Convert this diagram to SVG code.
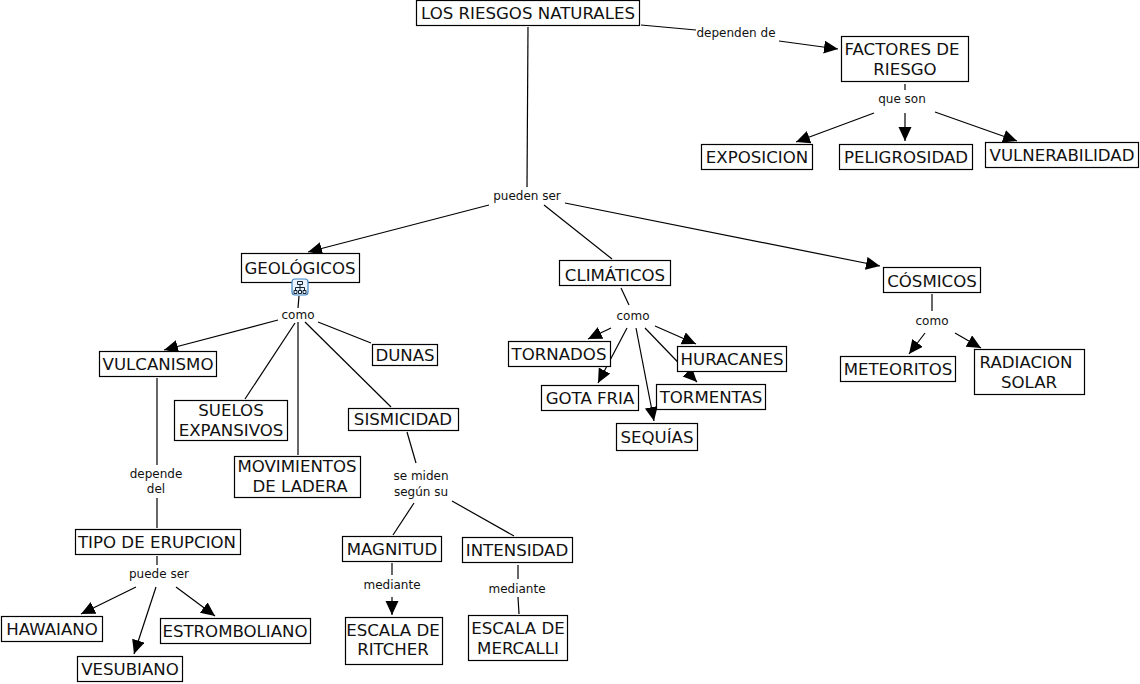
<svg xmlns="http://www.w3.org/2000/svg" width="1140" height="684" viewBox="0 0 1140 684">
<style>
text{font-family:"DejaVu Sans",Verdana,sans-serif;fill:#111;text-anchor:middle}
.n rect{fill:#fff;stroke:#000;stroke-width:1.2}
.n text{font-size:16.6px}
.l text{font-size:12px}
#c line{stroke:#000;stroke-width:1.2}
</style>
<defs><marker id="a" markerWidth="16" markerHeight="14" refX="14" refY="6.500" orient="auto" markerUnits="userSpaceOnUse"><path d="M0 0L14 6.500L0 13Z" fill="#000"/></marker></defs>
<rect width="1140" height="684" fill="#fff"/>
<g id="c">
<line x1="528" y1="27" x2="527" y2="187"/>
<line x1="641" y1="25" x2="696" y2="30"/>
<line x1="779" y1="41" x2="838" y2="49" marker-end="url(#a)"/>
<line x1="905" y1="84" x2="905" y2="90"/>
<line x1="874" y1="113" x2="796" y2="142" marker-end="url(#a)"/>
<line x1="905" y1="113" x2="905" y2="141" marker-end="url(#a)"/>
<line x1="935" y1="112" x2="1017" y2="141" marker-end="url(#a)"/>
<line x1="489" y1="205" x2="308" y2="252" marker-end="url(#a)"/>
<line x1="544" y1="205" x2="612" y2="259"/>
<line x1="565" y1="203" x2="880" y2="266" marker-end="url(#a)"/>
<line x1="299" y1="296" x2="298" y2="308"/>
<line x1="278" y1="320" x2="164" y2="350" marker-end="url(#a)"/>
<line x1="295" y1="323" x2="245" y2="399"/>
<line x1="298" y1="322" x2="298" y2="455"/>
<line x1="305" y1="322" x2="391" y2="407"/>
<line x1="318" y1="322" x2="371" y2="343"/>
<line x1="157" y1="378" x2="157" y2="465"/>
<line x1="157" y1="498" x2="157" y2="528"/>
<line x1="157" y1="556" x2="157" y2="565"/>
<line x1="136" y1="587" x2="81" y2="614" marker-end="url(#a)"/>
<line x1="156" y1="587" x2="134" y2="654" marker-end="url(#a)"/>
<line x1="176" y1="587" x2="215" y2="616" marker-end="url(#a)"/>
<line x1="407" y1="432" x2="416" y2="463"/>
<line x1="414" y1="503" x2="393" y2="535"/>
<line x1="452" y1="501" x2="514" y2="536"/>
<line x1="392" y1="563" x2="392" y2="575"/>
<line x1="392" y1="597" x2="392" y2="615" marker-end="url(#a)"/>
<line x1="518" y1="565" x2="518" y2="579"/>
<line x1="518" y1="597" x2="519" y2="614"/>
<line x1="621" y1="288" x2="629" y2="305"/>
<line x1="611" y1="328" x2="588" y2="339" marker-end="url(#a)"/>
<line x1="627" y1="328" x2="598" y2="383" marker-end="url(#a)"/>
<line x1="636" y1="328" x2="654" y2="421" marker-end="url(#a)"/>
<line x1="645" y1="328" x2="697" y2="382" marker-end="url(#a)"/>
<line x1="655" y1="326" x2="696" y2="344" marker-end="url(#a)"/>
<line x1="932" y1="294" x2="932" y2="311"/>
<line x1="925" y1="333" x2="909" y2="354" marker-end="url(#a)"/>
<line x1="955" y1="333" x2="981" y2="348" marker-end="url(#a)"/>
</g>
<g id="n-riesgos" class="n"><rect x="416.500" y="0.500" width="223" height="25"/><text x="528" y="18.500">LOS RIESGOS NATURALES</text></g>
<g id="n-factores" class="n"><rect x="841.500" y="36.500" width="127" height="45"/><text x="902" y="55">FACTORES DE</text><text x="905" y="74.500">RIESGO</text></g>
<g id="n-exposicion" class="n"><rect x="701.500" y="144.500" width="111" height="25"/><text x="757" y="162.500">EXPOSICION</text></g>
<g id="n-peligrosidad" class="n"><rect x="839.500" y="144.500" width="133" height="25"/><text x="906" y="162.500">PELIGROSIDAD</text></g>
<g id="n-vulnerabilidad" class="n"><rect x="985.500" y="142.500" width="153" height="25"/><text x="1062" y="160.500">VULNERABILIDAD</text></g>
<g id="n-geologicos" class="n"><rect x="241.500" y="253.500" width="118" height="29"/><text x="300" y="273.500">GEOLÓGICOS</text></g>
<g id="icono"><rect x="292" y="279" width="16" height="16" rx="3" fill="#eaf3fc" stroke="#3d85c6" stroke-width="1.2"/><path d="M297.500 281.500h5v3h-5zM294 290.500h3v3h-3zM298.500 290.500h3v3h-3zM303 290.500h3v3h-3zM300 284.500v6M295.500 290.500v-3h9v3" fill="none" stroke="#123" stroke-width="1"/></g>
<g id="n-climaticos" class="n"><rect x="559.500" y="260.500" width="111" height="25"/><text x="615" y="281">CLIMÁTICOS</text></g>
<g id="n-cosmicos" class="n"><rect x="883.500" y="267.500" width="97" height="25"/><text x="932" y="287">CÓSMICOS</text></g>
<g id="n-vulcanismo" class="n"><rect x="99.500" y="351.500" width="117" height="25"/><text x="158" y="370">VULCANISMO</text></g>
<g id="n-dunas" class="n"><rect x="372.500" y="344.500" width="65" height="21"/><text x="405" y="361">DUNAS</text></g>
<g id="n-suelos" class="n"><rect x="174.500" y="400.500" width="113" height="40"/><text x="231" y="416">SUELOS</text><text x="231" y="435.500">EXPANSIVOS</text></g>
<g id="n-movimientos" class="n"><rect x="234.500" y="456.500" width="126" height="41"/><text x="297" y="472">MOVIMIENTOS</text><text x="300" y="491.500">DE LADERA</text></g>
<g id="n-sismicidad" class="n"><rect x="348.500" y="408.500" width="110" height="22"/><text x="403" y="425">SISMICIDAD</text></g>
<g id="n-tornados" class="n"><rect x="508.500" y="341.500" width="102" height="25"/><text x="559" y="360">TORNADOS</text></g>
<g id="n-gota" class="n"><rect x="541.500" y="385.500" width="97" height="25"/><text x="590" y="404">GOTA FRIA</text></g>
<g id="n-tormentas" class="n"><rect x="656.500" y="384.500" width="109" height="25"/><text x="711" y="403">TORMENTAS</text></g>
<g id="n-huracanes" class="n"><rect x="677.500" y="346.500" width="109" height="25"/><text x="732" y="365">HURACANES</text></g>
<g id="n-sequias" class="n"><rect x="616.500" y="423.500" width="81" height="27"/><text x="657" y="443">SEQUÍAS</text></g>
<g id="n-meteoritos" class="n"><rect x="840.500" y="356.500" width="115" height="25"/><text x="898" y="375">METEORITOS</text></g>
<g id="n-radiacion" class="n"><rect x="974.500" y="349.500" width="110" height="45"/><text x="1026" y="368">RADIACION</text><text x="1029" y="387.500">SOLAR</text></g>
<g id="n-tipo" class="n"><rect x="75.500" y="529.500" width="165" height="25"/><text x="157" y="548">TIPO DE ERUPCION</text></g>
<g id="n-magnitud" class="n"><rect x="342.500" y="536.500" width="99" height="25"/><text x="392" y="555">MAGNITUD</text></g>
<g id="n-intensidad" class="n"><rect x="462.500" y="537.500" width="110" height="25"/><text x="517" y="556">INTENSIDAD</text></g>
<g id="n-hawaiano" class="n"><rect x="1.500" y="616.500" width="101" height="25"/><text x="52" y="635">HAWAIANO</text></g>
<g id="n-vesubiano" class="n"><rect x="77.500" y="656.500" width="105" height="25"/><text x="130" y="675">VESUBIANO</text></g>
<g id="n-estromboliano" class="n"><rect x="160.500" y="618.500" width="150" height="25"/><text x="235" y="637">ESTROMBOLIANO</text></g>
<g id="n-ritcher" class="n"><rect x="345.500" y="617.500" width="97" height="47"/><text x="393" y="635.500">ESCALA DE</text><text x="393" y="655">RITCHER</text></g>
<g id="n-mercalli" class="n"><rect x="468.500" y="615.500" width="99" height="45"/><text x="518" y="633.500">ESCALA DE</text><text x="518" y="653.500">MERCALLI</text></g>
<g class="l">
<text x="736" y="37">dependen de</text><text x="902" y="103">que son</text><text x="527" y="200">pueden ser</text><text x="298" y="319">como</text><text x="633" y="320">como</text><text x="932" y="325">como</text>
<text x="156" y="478">depende</text><text x="156" y="493">del</text><text x="159" y="578">puede ser</text><text x="421" y="480">se miden</text><text x="421" y="496">según su</text><text x="392" y="589">mediante</text><text x="517" y="593">mediante</text>
</g>
</svg>
